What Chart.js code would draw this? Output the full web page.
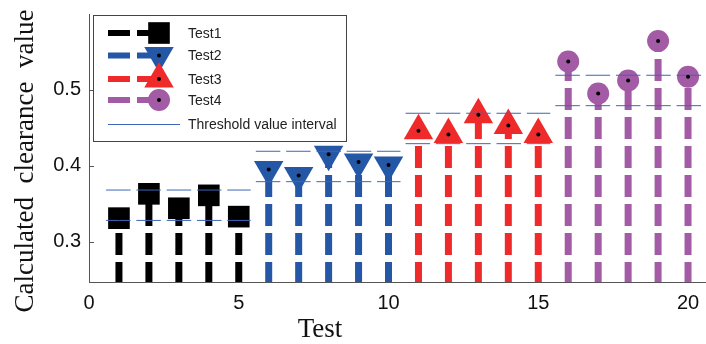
<!DOCTYPE html>
<html>
<head>
<meta charset="utf-8">
<script src="https://cdn.jsdelivr.net/npm/chart.js@4/dist/chart.umd.min.js"></script>
<style>
  body { margin: 0; background: #fff; }
  canvas { display: block; }
</style>
</head>
<body>
<canvas id="chart" width="706" height="344"></canvas>
<script>
// values, one array per test group
var groupNames = ["Test1", "Test2", "Test3", "Test4"];
var test1 = [0.331, 0.363, 0.344, 0.361, 0.333];
var test2 = [0.395, 0.387, 0.415, 0.405, 0.401];
var test3 = [0.446, 0.441, 0.467, 0.453, 0.441];
var test4 = [0.537, 0.495, 0.512, 0.564, 0.517];
var testNo = [[1, 2, 3, 4, 5], [6, 7, 8, 9, 10], [11, 12, 13, 14, 15], [16, 17, 18, 19, 20]];

// threshold interval per group (lower / upper value, x extent)
var thrLow = [0.328, 0.379, 0.429, 0.479];
var thrHigh = [0.368, 0.419, 0.469, 0.519];
var thrFrom = [0.57, 5.57, 10.57, 15.57];
var thrTo = [5.4, 10.4, 15.4, 20.47];

var xTicks = [0, 5, 10, 15, 20];
var yTicks = [0.3, 0.4, 0.5];
var xMin = 0, xMax = 20.6;
var yMin = 0.247, yMax = 0.5996;

var colors = ["#000000", "#2457a6", "#ee2a2b", "#a25ba4"];
var markStyle = ["rect", "triangle", "triangle", "circle"];
var markRot = [0, 180, 0, 0];
var markRad = [15.3, 17, 17, 11];
var thrColor = "#3d66b9";

var values = [test1, test2, test3, test4];
var datasets = [];

for (var g = 0; g < 4; g++) {
    var pts = testNo[g].map(function(x, k) { return {x: x, y: values[g][k]}; });
    // center dots
    datasets.push({
        label: groupNames[g] + " dot", data: pts, order: 0,
        pointStyle: "circle", pointRadius: 2, pointBackgroundColor: "#000",
        pointBorderWidth: 0, showLine: false
    });
    // markers
    datasets.push({
        label: groupNames[g], data: pts, order: 2,
        pointStyle: markStyle[g], rotation: markRot[g], pointRadius: markRad[g],
        pointBackgroundColor: colors[g], pointBorderColor: colors[g], pointBorderWidth: 0,
        showLine: false
    });
    // stems
    for (var k = 0; k < pts.length; k++) {
        datasets.push({
            label: "stem", data: [{x: pts[k].x, y: yMin}, {x: pts[k].x, y: pts[k].y}],
            order: 3, showLine: true, pointRadius: 0,
            borderColor: colors[g], borderWidth: 7,
            borderDash: [22, 7], borderDashOffset: 2, clip: 0
        });
    }
    // threshold interval lines
    [thrLow[g], thrHigh[g]].forEach(function(v) {
        datasets.push({
            label: "thr", data: [{x: thrFrom[g], y: v}, {x: thrTo[g], y: v}],
            order: 1, showLine: true, pointRadius: 0,
            borderColor: thrColor, borderWidth: 1, borderDash: [24.5, 5.8]
        });
    });
}

var sans = "'Liberation Sans', Arial, sans-serif";
var serif = "'Liberation Serif', 'Times New Roman', serif";

var extras = {
    id: "extras",
    afterDraw: function(chart) {
        var ctx = chart.ctx;
        var area = chart.chartArea;
        var ys = chart.scales.y;
        var H = Chart.helpers;
        ctx.save();

        // inward y ticks
        ctx.strokeStyle = "#555";
        ctx.lineWidth = 1;
        yTicks.forEach(function(v) {
            var py = Math.round(ys.getPixelForValue(v)) + 0.5;
            ctx.beginPath();
            ctx.moveTo(area.left, py);
            ctx.lineTo(area.left + 5, py);
            ctx.stroke();
        });

        // axis titles
        ctx.fillStyle = "#111";
        ctx.font = "27px " + serif;
        ctx.textAlign = "center";
        ctx.textBaseline = "alphabetic";
        ctx.fillText("Test", 320, 337);
        ctx.save();
        ctx.translate(33, 161);
        ctx.rotate(-Math.PI / 2);
        ctx.fillText("Calculated  clearance  value", 0, 0);
        ctx.restore();

        // legend box
        ctx.fillStyle = "#fff";
        ctx.fillRect(93.5, 15.5, 253, 126);
        ctx.strokeStyle = "#444";
        ctx.lineWidth = 1;
        ctx.strokeRect(93.5, 15.5, 253, 126);

        var rows = [33, 55.5, 79, 100];
        for (var g = 0; g < 4; g++) {
            var y = rows[g];
            ctx.save();
            ctx.strokeStyle = colors[g];
            ctx.lineWidth = 6;
            ctx.setLineDash([22, 7]);
            ctx.beginPath();
            ctx.moveTo(108, y);
            ctx.lineTo(159, y);
            ctx.stroke();
            ctx.restore();
            ctx.fillStyle = colors[g];
            ctx.strokeStyle = colors[g];
            H.drawPoint(ctx, {pointStyle: markStyle[g], rotation: markRot[g], radius: markRad[g], borderWidth: 0}, 159, y);
            ctx.fillStyle = "#000";
            H.drawPoint(ctx, {pointStyle: "circle", rotation: 0, radius: 2, borderWidth: 0}, 159, y);
            ctx.fillStyle = "#222";
            ctx.font = "14px " + sans;
            ctx.textAlign = "left";
            ctx.textBaseline = "middle";
            ctx.fillText(groupNames[g], 188, y + 1);
        }
        ctx.strokeStyle = thrColor;
        ctx.lineWidth = 1;
        ctx.beginPath();
        ctx.moveTo(108, 124.5);
        ctx.lineTo(180, 124.5);
        ctx.stroke();
        ctx.fillStyle = "#222";
        ctx.fillText("Threshold value interval", 188, 125.5);

        ctx.restore();
    }
};

var chart = new Chart(document.getElementById("chart"), {
    type: "scatter",
    data: {datasets: datasets},
    plugins: [extras],
    options: {
        responsive: false,
        animation: false,
        devicePixelRatio: 1,
        layout: {autoPadding: false, padding: {top: 14, left: 0, right: 0, bottom: 0}},
        plugins: {legend: {display: false}, tooltip: {enabled: false}},
        scales: {
            x: {
                type: "linear", min: xMin, max: xMax,
                afterBuildTicks: function(s) { s.ticks = xTicks.map(function(v) { return {value: v}; }); },
                afterFit: function(s) { s.height = 62; s.paddingLeft = 0; s.paddingRight = 0; },
                grid: {display: false, drawTicks: false},
                border: {display: true, color: "#555", width: 1},
                ticks: {padding: 9, color: "#111", font: {family: sans, size: 20}, maxRotation: 0}
            },
            y: {
                type: "linear", min: yMin, max: yMax,
                afterBuildTicks: function(s) { s.ticks = yTicks.map(function(v) { return {value: v}; }); },
                afterFit: function(s) { s.width = 89; s.paddingTop = 0; s.paddingBottom = 0; },
                grid: {display: false, drawTicks: false},
                border: {display: true, color: "#555", width: 1},
                ticks: {padding: 8, color: "#111", font: {family: sans, size: 20},
                    callback: function(v) { return v.toFixed(1); }}
            }
        }
    }
});
</script>
</body>
</html>
